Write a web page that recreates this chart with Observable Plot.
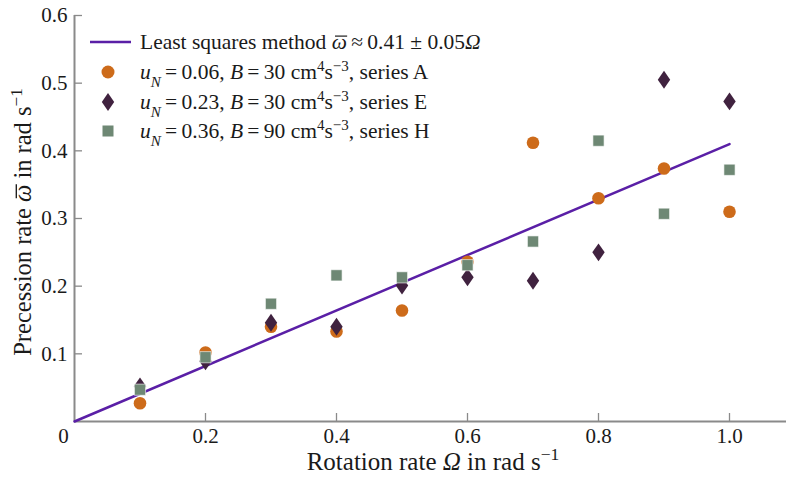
<!DOCTYPE html>
<html><head><meta charset="utf-8">
<script src="https://cdn.jsdelivr.net/npm/d3@7"></script>
<script src="https://cdn.jsdelivr.net/npm/@observablehq/plot@0.6"></script>
<style>body{margin:0;background:#fff} svg text{font-family:"Liberation Serif","Times New Roman",serif}</style>
</head><body><div id="chart"></div>
<script>
const omega = [0.1,0.2,0.3,0.4,0.5,0.6,0.7,0.8,0.9,1.0];
const seriesA = [0.027,0.102,0.140,0.133,0.164,0.236,0.412,0.330,0.374,0.310];
const seriesE = [0.052,0.089,0.146,0.140,0.201,0.213,0.208,0.250,0.505,0.473];
const seriesH = [0.047,0.095,0.174,0.216,0.213,0.231,0.266,0.415,0.307,0.372];
const fitX = [0, 1.0];
const fitSlope = 0.41;
const xTicks = [0.2,0.4,0.6,0.8,1.0];
const yTicks = [0.1,0.2,0.3,0.4,0.5,0.6];

const FONT = "Liberation Serif";
const cLine = "#5a1fa6", cA = "#cd6b1a", cE = "#40223f", cH = "#6e8874", cAxis = "#8a8a8a";
const tallDiamond = {draw(ctx, size){ const s = Math.sqrt(size); const w = s*0.5, h = s*0.72; ctx.moveTo(0,-h); ctx.lineTo(w,0); ctx.lineTo(0,h); ctx.lineTo(-w,0); ctx.closePath(); }};

const rows = (ys) => omega.map((x,i)=>({x, y: ys[i]}));
const W=786,H=477, mL=74, mR=0, mT=15, mB=56;
const xMax = (W-mL)/655;
const tickLenY = 8/((H-mT-mB)/0.6), tickLenX = 8/655;

const svg = Plot.plot({
  width: W, height: H, marginLeft: mL, marginRight: mR, marginTop: mT, marginBottom: mB,
  x: {domain:[0,xMax], axis:null},
  y: {domain:[0,0.6], axis:null},
  style: {fontFamily:FONT, background:"#fff"},
  marks: [
    Plot.ruleY([0], {stroke:cAxis, strokeWidth:2}),
    Plot.ruleX([0], {y1:0, y2:0.6, stroke:cAxis, strokeWidth:2}),
    Plot.ruleX(xTicks, {y1:0, y2:tickLenY, stroke:cAxis, strokeWidth:1.3}),
    Plot.ruleY(yTicks, {x1:0, x2:tickLenX, stroke:cAxis, strokeWidth:1.3}),
    Plot.text(xTicks, {x:d=>d, y:0, dy:15, text:d=>d.toFixed(1), fontSize:21, fontFamily:FONT, fill:"#1a1a1a"}),
    Plot.text(yTicks, {x:0, y:d=>d, dx:-7, text:d=>d.toFixed(1), textAnchor:"end", fontSize:21, fontFamily:FONT, fill:"#1a1a1a"}),
    Plot.text([0], {x:0, y:0, dx:-11, dy:15, text:d=>"0", fontSize:21, fontFamily:FONT, fill:"#1a1a1a"}),
    Plot.line(fitX.map(x=>({x, y: fitSlope*x})), {x:"x", y:"y", stroke:cLine, strokeWidth:2.5}),
    Plot.dot(rows(seriesA), {x:"x", y:"y", r:6.3, fill:cA, symbol:"circle"}),
    Plot.dot(rows(seriesE), {x:"x", y:"y", r:7, fill:cE, symbol:tallDiamond}),
    Plot.dot(rows(seriesH), {x:"x", y:"y", r:6.3, fill:cH, symbol:"square", stroke:"#fff", strokeWidth:0.6})
  ]
});
document.getElementById("chart").appendChild(svg);

const s = d3.select(svg);
const TS = "\u2009";
function rich(g, x, y, parts, size, opts={}){
  const t = g.append("text").attr("x",x).attr("y",y).attr("font-size",size)
    .attr("font-family",FONT).attr("fill","#1a1a1a")
    .attr("text-anchor", opts.anchor || "start");
  const bars = [];
  for (const p of parts){
    const ts = t.append("tspan").text(p.t);
    if (p.i) ts.attr("font-style","italic");
    if (p.bar) bars.push(ts);
    if (p.sup){ ts.attr("font-size", size*0.7).attr("baseline-shift","super"); }
    if (p.sub){ ts.attr("font-size", size*0.7).attr("baseline-shift","sub"); }
  }
  for (const ts of bars){
    const e = ts.node().getExtentOfChar(0);
    g.append("line")
      .attr("x1", e.x + e.width*0.22).attr("x2", e.x + e.width*1.02)
      .attr("y1", y - size*0.6).attr("y2", y - size*0.6)
      .attr("stroke","#1a1a1a").attr("stroke-width", size*0.055);
  }
  return t;
}
// axis titles
rich(s, 433, 470, [{t:"Rotation rate "},{t:"Ω",i:1},{t:" in rad s"},{t:"−1",sup:1}], 25, {anchor:"middle"});
const yg = s.append("g").attr("transform","translate(31,222) rotate(-90)");
rich(yg, 0, 0, [{t:"Precession rate "},{t:"ω",i:1,bar:1},{t:" in rad s"},{t:"−1",sup:1}], 24.5, {anchor:"middle"});

// legend
const lg = s.append("g");
const legY = [42,72,102,131];
lg.append("line").attr("x1",90).attr("x2",131).attr("y1",legY[0]).attr("y2",legY[0]).attr("stroke",cLine).attr("stroke-width",2.5);
lg.append("circle").attr("cx",108).attr("cy",legY[1]).attr("r",6.5).attr("fill",cA);
lg.append("path").attr("d",d3.symbol(tallDiamond, 49*Math.PI)()).attr("transform",`translate(108,${legY[2]})`).attr("fill",cE);
lg.append("rect").attr("x",102.5).attr("y",legY[3]-5.5).attr("width",11).attr("height",11).attr("fill",cH);
const fs = 21.5;
rich(lg, 140, legY[0]+7, [{t:"Least squares method "},{t:"ω",i:1,bar:1},{t:TS+"≈"+TS+"0.41 ± 0.05"},{t:"Ω",i:1}], fs);
const lab = (u,b,ser)=>[{t:"u",i:1},{t:"N",i:1,sub:1},{t:TS+"="+TS+u+", "},{t:"B",i:1},{t:TS+"="+TS+b+" cm"},{t:"4",sup:1},{t:"s"},{t:"−3",sup:1},{t:", series "+ser}];
rich(lg, 140, legY[1]+7, lab("0.06","30","A"), fs);
rich(lg, 140, legY[2]+7, lab("0.23","30","E"), fs);
rich(lg, 140, legY[3]+7, lab("0.36","90","H"), fs);
</script></body></html>
